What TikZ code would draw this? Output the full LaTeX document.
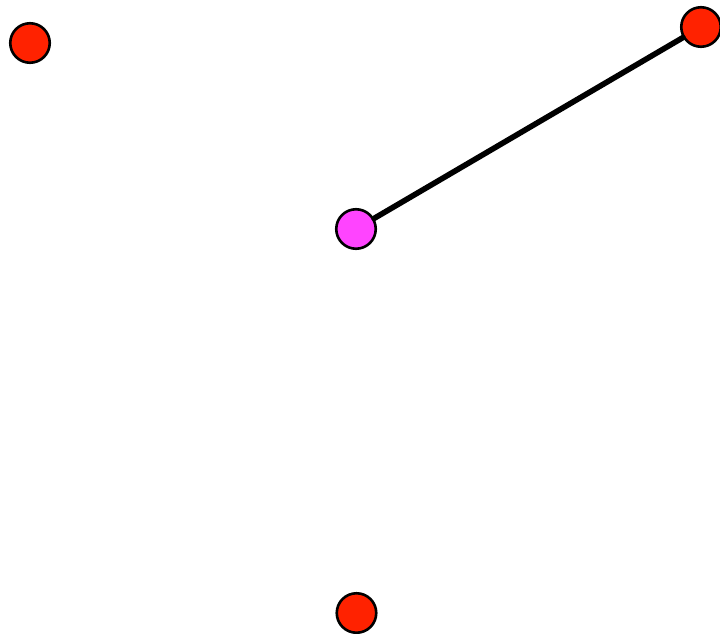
\documentclass[tikz,border=0pt]{standalone}
\usetikzlibrary{positioning}
\definecolor{vertexRed}{RGB}{255,34,0}
\definecolor{vertexPink}{RGB}{255,68,255}
\begin{document}
\begin{tikzpicture}
% graph exported in pixel units
\def\unitsz{1pt}
\providecommand{\vertexLineWidth}{2.6pt}
\providecommand{\edgeLineWidth}{5.6pt}
\tikzset{
  vertex/.style={circle, draw=black, line width=\vertexLineWidth, minimum size=39.5pt, inner sep=0pt},
  edge/.style={draw=black, line width=\edgeLineWidth}
}
\begin{scope}[x=\unitsz, y=-\unitsz, line cap=round, line join=round]
  % Canvas
  \useasboundingbox (0,0) rectangle (720,634);
  % Vertices
  \node[vertex, fill=vertexRed] (topleft) at (30,43) {};
  \node[vertex, fill=vertexRed] (topright) at (701,27) {};
  \node[vertex, fill=vertexPink] (center) at (356,229) {};
  \node[vertex, fill=vertexRed] (bottom) at (356.5,613) {};
  % Edges
  \path[edge] (center) -- (topright);
\end{scope}
\end{tikzpicture}
\end{document}
